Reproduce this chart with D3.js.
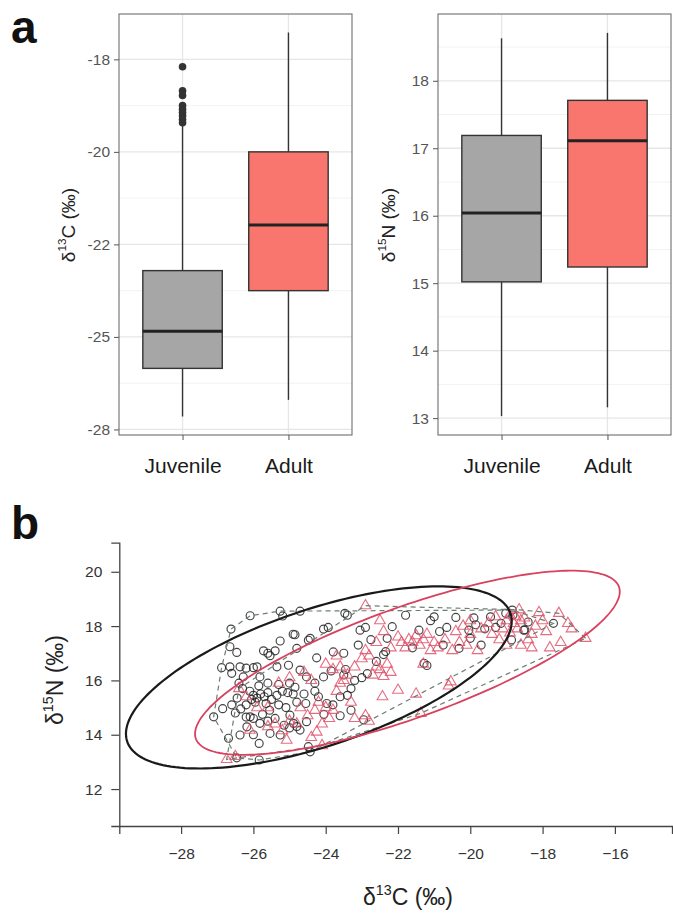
<!DOCTYPE html>
<html>
<head>
<meta charset="utf-8">
<script src="https://cdn.jsdelivr.net/npm/d3@7"></script>
<style>
body { margin: 0; background: #fff; }
text { font-family: "Liberation Sans", Arial, sans-serif; }
</style>
</head>
<body>
<div id="chart"></div>
<script>
const W = 673, H = 914
const groups = ["Juvenile", "Adult"]

// panel a (left): d13C, breaks are drawn evenly spaced on the axis
const c13Breaks = [-28, -25, -22, -20, -18]
const c13Stats = [
	{ group: "Juvenile", lo: -27.58, q1: -26.02, med: -24.82, q3: -22.85, hi: -19.44 },
	{ group: "Adult", lo: -27.04, q1: -23.5, med: -21.58, q3: -20.0, hi: -17.42 }
]
const c13Outliers = [-18.16, -18.68, -18.78, -19.0, -19.08, -19.15, -19.22, -19.3, -19.37]

// panel a (right): d15N
const n15Breaks = [13, 14, 15, 16, 17, 18]
const n15Stats = [
	{ group: "Juvenile", lo: 13.03, q1: 15.02, med: 16.04, q3: 17.19, hi: 18.63 },
	{ group: "Adult", lo: 13.16, q1: 15.24, med: 17.11, q3: 17.71, hi: 18.71 }
]

// panel b: [d13C, d15N]
const juvenilePts = [
	[-26.62,17.89],[-26.09,18.38],[-25.26,18.55],[-25.19,18.37],[-24.71,18.55],[-23.47,18.47],[-23.4,18.4],
	[-26.65,17.24],[-26.46,17.03],[-25.72,17.09],[-25.54,16.91],[-25.40,17.09],[-25.26,17.45],[-24.85,17.68],
	[-24.80,17.18],[-24.48,17.48],[-24.43,17.55],[-24.06,17.89],[-23.93,17.95],[-24.25,16.83],[-23.79,17.05],
	[-25.6,17.0],[-24.9,17.7],
	[-26.88,16.47],[-26.65,16.50],[-26.37,16.50],[-26.0,16.47],[-26.6,16.26],[-26.28,16.13],[-25.82,16.13],
	[-25.35,16.5],[-25.03,16.56],[-24.71,16.38],[-24.53,16.13],[-24.06,16.13],[-23.85,16.35],[-23.5,16.2],
	[-23.45,16.4],[-25.9,16.5],[-26.2,16.45],
	[-26.4,15.9],[-26.3,15.7],[-26.1,15.6],[-26.0,15.45],[-25.9,15.35],[-25.8,15.5],[-26.05,15.3],[-25.95,15.2],
	[-25.7,15.4],[-25.6,15.55],[-25.5,15.3],[-25.35,15.45],[-25.2,15.6],[-25.05,15.55],[-24.9,15.5],[-24.85,15.75],
	[-25.0,15.9],[-25.3,15.85],[-25.6,15.9],[-25.85,15.8],[-26.2,15.1],[-26.35,14.95],[-26.5,14.8],[-26.2,14.65],
	[-26.0,14.6],[-25.75,14.75],[-25.55,14.9],[-25.3,15.1],[-25.1,15.0],[-24.8,15.2],[-24.6,15.5],[-24.55,15.15],
	[-24.3,15.6],[-24.2,15.4],[-26.6,15.1],[-26.85,14.96],[-27.1,14.66],[-26.45,15.35],[-25.65,15.15],
	[-26.69,13.87],[-26.46,13.15],[-25.84,13.07],[-25.84,13.68],[-26.37,13.99],[-26.18,14.29],[-26.09,14.66],
	[-25.82,14.42],[-25.54,14.05],[-25.26,13.99],[-24.89,14.42],[-24.71,14.17],[-24.53,14.48],[-24.48,13.56],
	[-24.43,13.37],[-24.99,14.72],[-25.15,14.35],[-25.0,14.25],[-24.8,14.3],[-25.6,14.5],[-26.0,14.0],[-25.4,14.6],
	[-23.6,15.4],[-23.97,15.15],[-23.8,15.1],[-23.4,15.45],[-23.3,15.7],[-23.2,16.0],[-23.0,16.1],[-22.85,16.25],
	[-22.6,16.7],[-22.4,16.95],[-23.1,17.3],[-23.5,17.0],[-22.75,17.5],[-22.3,17.55],[-23.05,17.85],[-22.9,17.95],
	[-24.05,14.75],[-23.6,14.7],[-23.3,14.9],[-22.95,14.55],[-24.3,15.9],
	[-21.79,18.40],[-21.0,18.34],[-20.4,18.32],[-21.1,18.2],[-20.65,17.95],[-20.85,17.8],[-21.42,17.85],
	[-22.16,17.98],[-20.31,17.18],[-20.04,17.85],[-19.85,18.05],[-19.6,17.9],[-19.44,18.34],[-19.3,17.95],
	[-19.15,18.1],[-19.02,18.47],[-18.84,18.59],[-18.82,18.41],[-18.52,17.85],[-18.49,17.86],[-18.86,17.49],
	[-19.7,17.3],[-20.0,17.55],[-21.28,16.63],[-21.2,16.55],[-22.34,17.06],[-21.6,17.2],[-20.75,17.3],
	[-19.9,18.3],[-18.4,18.15],[-17.7,18.1]
]
const adultPts = [
	[-26.74,13.09],[-26.5,13.2],[-26.1,14.17],[-26.4,15.7],[-26.2,15.4],[-25.9,15.0],[-25.08,13.8],[-24.25,14.1],
	[-24.4,13.9],[-24.1,13.6],[-24.8,14.4],[-25.2,14.15],[-25.0,14.5],[-25.4,14.4],[-25.6,14.3],[-25.6,15.0],
	[-25.3,15.9],[-25.0,16.1],[-24.7,15.0],[-24.5,14.7],[-24.3,14.9],[-24.2,15.2],[-24.0,15.0],[-23.9,14.6],
	[-23.8,14.9],[-24.1,14.4],[-23.7,15.6],[-23.6,15.9],[-23.5,16.0],[-23.4,16.2],[-23.3,15.2],[-23.2,14.6],
	[-22.9,14.7],[-22.8,14.5],[-24.6,16.3],[-24.4,16.0],[-24.0,16.6],[-23.8,16.4],[-23.6,16.5],[-23.7,16.9],
	[-23.2,16.5],[-23.0,16.8],[-22.9,17.1],[-22.8,16.9],[-22.6,16.5],[-22.5,16.4],[-22.7,16.2],[-22.3,16.6],
	[-22.4,16.15],[-22.2,16.3],[-22.6,17.4],[-22.2,17.2],[-22.9,18.75],[-22.5,18.2],[-22.4,17.8],[-22.0,15.64],
	[-22.43,15.4],[-21.37,14.79],[-21.5,15.5],[-20.6,15.8],[-20.54,15.95],[-21.3,16.6],
	[-21.7,17.5],[-21.6,17.4],[-21.5,17.65],[-21.4,17.3],[-21.3,17.5],[-21.2,17.7],[-21.0,17.4],[-20.9,17.2],
	[-21.1,17.1],[-20.7,17.5],[-20.5,17.1],[-20.3,17.4],[-20.1,17.3],[-20.0,17.7],[-20.2,18.0],[-20.0,18.2],
	[-19.8,17.1],[-19.7,17.9],[-20.4,17.8],[-21.8,17.2],[-21.9,17.4],[-22.0,17.6],
	[-19.5,18.1],[-19.4,17.7],[-19.2,17.5],[-19.1,17.9],[-19.0,18.2],[-18.9,18.4],[-18.8,18.1],[-18.75,18.35],
	[-18.7,17.9],[-18.65,18.6],[-18.6,18.2],[-18.5,18.3],[-18.4,17.5],[-18.3,17.7],[-18.2,18.0],[-18.1,18.5],
	[-18.0,18.2],[-17.9,17.8],[-17.8,17.2],[-17.55,18.47],[-17.3,18.1],[-17.2,17.9],[-16.81,17.55],[-18.6,17.3],
	[-18.3,17.2],[-19.0,17.3],[-18.9,17.75],[-19.3,18.35],[-17.5,17.4]
]
// ellipse: centre, half-axes along x / y (data units) and correlation
const ellipses = [
	{ group: "Juvenile", cx: -24.19, cy: 16.11, rx: 5.336, ry: 3.353, rho: 0.619 },
	{ group: "Adult", cx: -21.74, cy: 16.65, rx: 5.875, ry: 3.39, rho: 0.772 }
]
const bXTicks = [-28, -26, -24, -22, -20, -18, -16]
const bYTicks = [12, 14, 16, 18, 20]

const fills = { Juvenile: "#a6a6a6", Adult: "#f8766d" }
const lineCol = { Juvenile: "#1a1a1a", Adult: "#d9415f" }

const svg = d3.select("#chart").append("svg")
	.attr("width", W).attr("height", H)
	.style("background", "#fff")

// ---------- panel a ----------
const pTop = 14, pBottom = 435

function boxPanel(x0, x1, y, breaks, minor, stats, outliers, tickFmt) {
	const g = svg.append("g")
	const x = d3.scalePoint().domain(groups).range([x0, x1]).padding(0.6)
	const bw = x.step() * 0.75

	// grid
	g.selectAll(".minor").data(minor).enter().append("line")
		.attr("x1", x0).attr("x2", x1)
		.attr("y1", d => y(d)).attr("y2", d => y(d))
		.attr("stroke", "#f2f2f2").attr("stroke-width", 1)
	g.selectAll(".major").data(breaks).enter().append("line")
		.attr("x1", x0).attr("x2", x1)
		.attr("y1", d => y(d)).attr("y2", d => y(d))
		.attr("stroke", "#e6e6e6").attr("stroke-width", 1.3)
	g.selectAll(".vgrid").data(groups).enter().append("line")
		.attr("x1", d => x(d)).attr("x2", d => x(d))
		.attr("y1", pTop).attr("y2", pBottom)
		.attr("stroke", "#e6e6e6").attr("stroke-width", 1.3)

	const box = g.selectAll(".box").data(stats).enter().append("g")
	box.append("line")
		.attr("x1", d => x(d.group)).attr("x2", d => x(d.group))
		.attr("y1", d => y(d.hi)).attr("y2", d => y(d.q3))
		.attr("stroke", "#333").attr("stroke-width", 1.4)
	box.append("line")
		.attr("x1", d => x(d.group)).attr("x2", d => x(d.group))
		.attr("y1", d => y(d.q1)).attr("y2", d => y(d.lo))
		.attr("stroke", "#333").attr("stroke-width", 1.4)
	box.append("rect")
		.attr("x", d => x(d.group) - bw / 2).attr("width", bw)
		.attr("y", d => y(d.q3)).attr("height", d => y(d.q1) - y(d.q3))
		.attr("fill", d => fills[d.group])
		.attr("stroke", "#333").attr("stroke-width", 1.4)
	box.append("line")
		.attr("x1", d => x(d.group) - bw / 2).attr("x2", d => x(d.group) + bw / 2)
		.attr("y1", d => y(d.med)).attr("y2", d => y(d.med))
		.attr("stroke", "#222").attr("stroke-width", 3)

	g.selectAll(".out").data(outliers).enter().append("circle")
		.attr("cx", x("Juvenile")).attr("cy", d => y(d)).attr("r", 3.8)
		.attr("fill", "#333")

	g.append("rect")
		.attr("x", x0).attr("y", pTop).attr("width", x1 - x0).attr("height", pBottom - pTop)
		.attr("fill", "none").attr("stroke", "#6e6e6e").attr("stroke-width", 1.1)

	const ya = g.append("g").attr("transform", `translate(${x0},0)`)
		.call(d3.axisLeft(y).tickValues(breaks).tickFormat(tickFmt).tickSize(5).tickPadding(4))
	ya.select(".domain").remove()
	ya.selectAll("line").attr("stroke", "#555")
	ya.selectAll("text").attr("font-size", 15.5).attr("fill", "#555")
		.style("font-family", '"Liberation Sans", Arial, sans-serif')

	const xa = g.append("g").attr("transform", `translate(0,${pBottom})`)
		.call(d3.axisBottom(x).tickSize(5).tickPadding(18))
	xa.select(".domain").remove()
	xa.selectAll("line").attr("stroke", "#555")
	xa.selectAll("text").attr("font-size", 21).attr("fill", "#1a1a1a")
		.style("font-family", '"Liberation Sans", Arial, sans-serif')
	return g
}

function isoLabel(parent, sup, el, size) {
	const t = parent.append("text").attr("text-anchor", "middle").attr("font-size", size).attr("fill", "#222")
	t.append("tspan").text("δ")
	t.append("tspan").attr("font-size", size * 0.62).attr("dy", -size * 0.45).text(sup)
	t.append("tspan").attr("dy", size * 0.45).text(el + " (‰)")
	return t
}

// left: piecewise scale so the irregular breaks sit evenly
const slot = d3.scaleLinear().domain([-0.06, 4.49]).range([pBottom, pTop])
const yC = d3.scaleLinear().domain(c13Breaks).range(c13Breaks.map((d, i) => slot(i)))
const c13Minor = d3.pairs(c13Breaks).map(([a, b]) => (a + b) / 2)
boxPanel(119, 352, yC, c13Breaks, c13Minor, c13Stats, c13Outliers, d => d)
isoLabel(svg.append("g").attr("transform", "translate(75,225) rotate(-90)"), "13", "C", 19)

const yN = d3.scaleLinear().domain([12.75, 18.99]).range([pBottom, pTop])
const n15Minor = d3.range(13.5, 18.6, 1)
boxPanel(438, 671, yN, n15Breaks, n15Minor, n15Stats, [], d => d)
isoLabel(svg.append("g").attr("transform", "translate(395,225) rotate(-90)"), "15", "N", 19)

svg.append("text").attr("x", 11).attr("y", 43).attr("font-size", 46).attr("font-weight", "bold")
	.attr("fill", "#111").text("a")
svg.append("text").attr("x", 11).attr("y", 539).attr("font-size", 46).attr("font-weight", "bold")
	.attr("fill", "#111").text("b")

// ---------- panel b ----------
const xB = d3.scaleLinear().domain([-29.71, -14.42]).range([119.3, 672])
const yB = d3.scaleLinear().domain([10.64, 21.07]).range([826, 542.7])
const gb = svg.append("g")

const px = p => [xB(p[0]), yB(p[1])]
gb.selectAll(".juv").data(juvenilePts).enter().append("circle")
	.attr("cx", d => xB(d[0])).attr("cy", d => yB(d[1])).attr("r", 4)
	.attr("fill", "none").attr("stroke", "#222").attr("stroke-opacity", 0.85).attr("stroke-width", 1.15)
gb.selectAll(".adu").data(adultPts).enter().append("path")
	.attr("d", d3.symbol(d3.symbolTriangle, 50))
	.attr("transform", d => `translate(${xB(d[0])},${yB(d[1])})`)
	.attr("fill", "none").attr("stroke", "#df536b").attr("stroke-opacity", 0.85).attr("stroke-width", 1.1)

for (const pts of [juvenilePts, adultPts]) {
	const hull = d3.polygonHull(pts.map(px))
	gb.append("path")
		.attr("d", "M" + hull.join("L") + "Z")
		.attr("fill", "none").attr("stroke", "#6c7d72").attr("stroke-width", 1.2)
		.attr("stroke-dasharray", "5,4")
}

const line = d3.line().x(d => xB(d[0])).y(d => yB(d[1])).curve(d3.curveLinearClosed)
gb.selectAll(".ell").data(ellipses).enter().append("path")
	.attr("d", e => line(d3.range(0, 360, 2).map(a => {
		const t = a * Math.PI / 180
		return [e.cx + e.rx * Math.cos(t),
			e.cy + e.ry * (e.rho * Math.cos(t) + Math.sqrt(1 - e.rho * e.rho) * Math.sin(t))]
	})))
	.attr("fill", "none")
	.attr("stroke", e => lineCol[e.group])
	.attr("stroke-width", e => e.group === "Juvenile" ? 2.2 : 1.8)

const xaB = gb.append("g").attr("transform", "translate(0,826)")
	.call(d3.axisBottom(xB).tickValues(bXTicks).tickSizeOuter(0).tickSize(8).tickPadding(14))
const yaB = gb.append("g").attr("transform", "translate(119.3,0)")
	.call(d3.axisLeft(yB).tickValues(bYTicks).tickSizeOuter(0).tickSize(8).tickPadding(9))
for (const a of [xaB, yaB]) {
	a.select(".domain").attr("stroke", "#444").attr("stroke-width", 1.3)
	a.selectAll("line").attr("stroke", "#444").attr("stroke-width", 1.2)
	a.selectAll("text").attr("font-size", 15.5).attr("fill", "#333")
		.style("font-family", '"Liberation Sans", Arial, sans-serif')
}
isoLabel(svg.append("g").attr("transform", "translate(408,905)"), "13", "C", 23)
isoLabel(svg.append("g").attr("transform", "translate(63,680) rotate(-90)"), "15", "N", 23)
</script>
</body>
</html>
